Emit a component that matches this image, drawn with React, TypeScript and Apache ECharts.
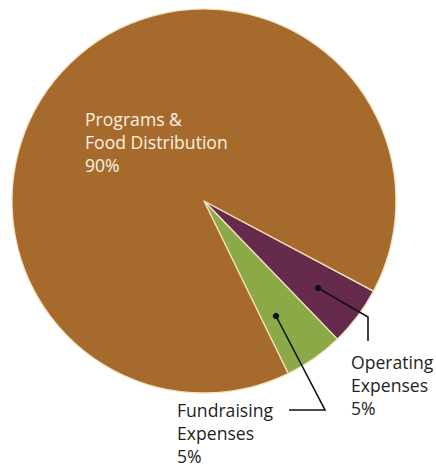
import React, { useEffect, useRef } from "react";
import * as echarts from "echarts";

const categories = ["Operating Expenses", "Fundraising Expenses", "Programs & Food Distribution"];
const labelLines = [
  ["Operating", "Expenses"],
  ["Fundraising", "Expenses"],
  ["Programs &", "Food Distribution"],
];
const values = [5, 5, 90];
const colors = ["#662a4c", "#8ba946", "#a66b2c"];

// layout of labels and leader lines (annotation positions)
const labelPos = [
  { x: 351, y: 350 },
  { x: 177, y: 398 },
  { x: 85, y: 107 },
];
const leaders = [
  [[318, 288], [368, 317], [368, 341]],
  [[276, 316], [325, 410], [289, 410]],
];

export default function App() {
  const ref = useRef<HTMLDivElement>(null);
  useEffect(() => {
    if (!ref.current) return;
    const chart = echarts.init(ref.current, null, { renderer: "svg" });
    const graphics: any[] = [];
    leaders.forEach((pts) => {
      graphics.push({
        type: "polyline",
        shape: { points: pts },
        style: { stroke: "#111", lineWidth: 1.6, fill: null },
        z: 10,
      });
      graphics.push({
        type: "circle",
        shape: { cx: pts[0][0], cy: pts[0][1], r: 3.2 },
        style: { fill: "#111" },
        z: 11,
      });
    });
    chart.setOption({
      animation: false,
      backgroundColor: "#ffffff",
      graphic: graphics,
      series: [
        {
          type: "pie",
          center: [204, 201],
          radius: [0, 192],
          startAngle: -28,
          clockwise: true,
          itemStyle: { borderColor: "#f4e2c0", borderWidth: 1.3 },
          labelLine: { show: false },
          label: {
            show: true,
            position: "inside",
            fontFamily: "Open Sans",
            fontSize: 17.6,
            lineHeight: 23.2,
            align: "left",
            formatter: (p: any) => labelLines[p.dataIndex].join("\n") + "\n" + p.value + "%",
          },
          labelLayout: (p: any) => ({
            x: labelPos[p.dataIndex].x,
            y: labelPos[p.dataIndex].y,
            align: "left",
            verticalAlign: "top",
          }),
          data: categories.map((name, i) => ({
            name,
            value: values[i],
            itemStyle: { color: colors[i] },
            label: { color: i === 2 ? "#fbf1e4" : "#231f20" },
          })),
        },
      ],
    });
    return () => chart.dispose();
  }, []);
  return (
    <div
      ref={ref}
      style={{ position: "absolute", left: 0, top: 0, width: 436, height: 468 }}
    />
  );
}
